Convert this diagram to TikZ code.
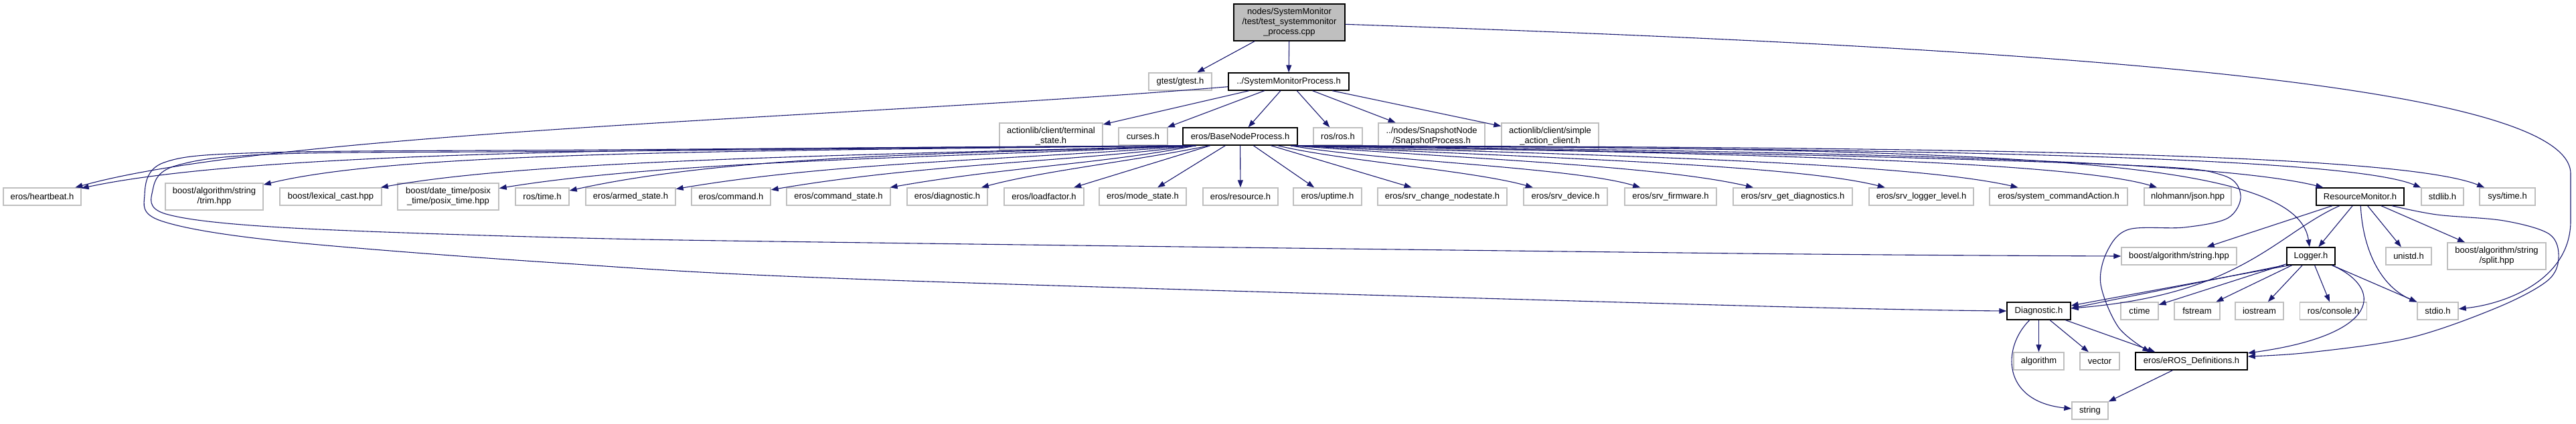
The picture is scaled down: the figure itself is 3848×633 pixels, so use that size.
\documentclass[tikz,border=0pt]{standalone}
\usepackage{fontspec}
\setmainfont{Liberation Sans}
\usetikzlibrary{arrows.meta}
\definecolor{edgeblue}{HTML}{191970}
\definecolor{boxgray}{HTML}{BFBFBF}
\begin{document}
\begin{tikzpicture}[x=0.01cm, y=-0.01cm,
 bw/.style={minimum width=#1*0.01cm},
 bh/.style={minimum height=#1*0.01cm},
 box/.style={rectangle, inner sep=0pt, font=\fontsize{3.7pt}{4.3pt}\selectfont, align=center, fill=white},
 ext/.style={box, draw=boxgray, line width=0.014cm},
 doc/.style={box, draw=black, line width=0.014cm},
 topfile/.style={box, draw=black, fill=boxgray, line width=0.014cm},
 edge/.style={draw=edgeblue, line width=0.011cm, -{Triangle[length=0.11cm,width=0.08cm]}},
]
\useasboundingbox (0,0) rectangle (3848,633);
\fill[white] (0,0) rectangle (3848,633);
% level 0-1
\node[topfile,bw=166,bh=55] (T) at (1926,33.5) {nodes/SystemMonitor\\/test/test\_systemmonitor\\\_process.cpp};
\node[ext,bw=94,bh=26] (gtest) at (1763,122) {gtest/gtest.h};
\node[doc,bw=180,bh=26] (SMP) at (1925,122) {../SystemMonitorProcess.h};
% level 2
\node[ext,bw=154,bh=40] (term) at (1570,204) {actionlib/client/terminal\\\_state.h};
\node[ext,bw=73,bh=26] (curses) at (1707.5,204) {curses.h};
\node[doc,bw=171,bh=26] (BNP) at (1852.5,204) {eros/BaseNodeProcess.h};
\node[ext,bw=73,bh=26] (rosros) at (1998.5,204) {ros/ros.h};
\node[ext,bw=159,bh=40] (snap) at (2138.5,204) {../nodes/SnapshotNode\\/SnapshotProcess.h};
\node[ext,bw=145,bh=40] (simple) at (2315.5,204) {actionlib/client/simple\\\_action\_client.h};
% level 3
\node[ext,bw=116,bh=26] (heartbeat) at (63,294) {eros/heartbeat.h};
\node[ext,bw=146,bh=40] (trim) at (320,294) {boost/algorithm/string\\/trim.hpp};
\node[ext,bw=152,bh=26] (lexical) at (494,294) {boost/lexical\_cast.hpp};
\node[ext,bw=151,bh=40] (posix) at (669.5,294) {boost/date\_time/posix\\\_time/posix\_time.hpp};
\node[ext,bw=80,bh=26] (rostime) at (810,294) {ros/time.h};
\node[ext,bw=134,bh=26] (armed) at (942,294) {eros/armed\_state.h};
\node[ext,bw=118,bh=26] (command) at (1092,294) {eros/command.h};
\node[ext,bw=155,bh=26] (cmdstate) at (1252.5,294) {eros/command\_state.h};
\node[ext,bw=120,bh=26] (diag) at (1415,294) {eros/diagnostic.h};
\node[ext,bw=119,bh=26] (loadf) at (1559.5,294) {eros/loadfactor.h};
\node[ext,bw=130,bh=26] (mode) at (1707,294) {eros/mode\_state.h};
\node[ext,bw=112,bh=26] (resource) at (1853,294) {eros/resource.h};
\node[ext,bw=102,bh=26] (uptime) at (1983,294) {eros/uptime.h};
\node[ext,bw=193,bh=26] (chg) at (2154.5,294) {eros/srv\_change\_nodestate.h};
\node[ext,bw=125,bh=26] (device) at (2338.5,294) {eros/srv\_device.h};
\node[ext,bw=137,bh=26] (firmware) at (2495.5,294) {eros/srv\_firmware.h};
\node[ext,bw=178,bh=26] (getdiag) at (2678,294) {eros/srv\_get\_diagnostics.h};
\node[ext,bw=156,bh=26] (loglvl) at (2870,294) {eros/srv\_logger\_level.h};
\node[ext,bw=206,bh=26] (sysca) at (3075,294) {eros/system\_commandAction.h};
\node[ext,bw=130,bh=26] (json) at (3268,294) {nlohmann/json.hpp};
\node[doc,bw=131,bh=26] (RM) at (3525.5,294) {ResourceMonitor.h};
\node[ext,bw=63,bh=26] (stdlib) at (3648.5,294) {stdlib.h};
\node[ext,bw=83,bh=26] (systime) at (3745.5,294) {sys/time.h};
% level 4
\node[ext,bw=172,bh=26] (strhpp) at (3255,383) {boost/algorithm/string.hpp};
\node[doc,bw=72,bh=26] (Logger) at (3452,383) {Logger.h};
\node[ext,bw=68,bh=26] (unistd) at (3598,383) {unistd.h};
\node[ext,bw=147,bh=40] (split) at (3729.5,383) {boost/algorithm/string\\/split.hpp};
% level 5
\node[doc,bw=95,bh=26] (Diagnostic) at (3045.5,465) {Diagnostic.h};
\node[ext,bw=56,bh=26] (ctime) at (3196,465) {ctime};
\node[ext,bw=68,bh=26] (fstream) at (3282,465) {fstream};
\node[ext,bw=72,bh=26] (iostream) at (3375,465) {iostream};
\node[ext,bw=100,bh=26] (console) at (3485.5,465) {ros/console.h};
\node[ext,bw=61,bh=26] (stdio) at (3641.5,465) {stdio.h};
% level 6-7
\node[ext,bw=75,bh=26] (algorithm) at (3045.5,540) {algorithm};
\node[ext,bw=59,bh=26] (vector) at (3136.5,540) {vector};
\node[doc,bw=167,bh=26] (eROSDef) at (3273.5,540) {eros/eROS\_Definitions.h};
\node[ext,bw=54,bh=26] (string) at (3122,614) {string};

% helper coordinates
\coordinate (bA) at ([xshift=0.1cm]BNP.south west);
\coordinate (bL) at ([xshift=0.2cm]BNP.south west);
\coordinate (bD) at ([xshift=0.4cm]BNP.south west);
\coordinate (bR) at ([xshift=-0.1cm]BNP.south east);
\coordinate (eTop) at ([xshift=0.22cm]eROSDef.north west);
\coordinate (eR1) at ([yshift=0.07cm]eROSDef.east);
\coordinate (eR2) at ([yshift=0.12cm]eROSDef.east);
\coordinate (rmR) at ([xshift=0.475cm]RM.south);

% top file
\draw[edge] (T) -- (gtest);
\draw[edge] (T) -- (SMP);
\draw[edge] (T) .. controls (3000,70) and (3840,120) .. (3840,260) -- (3840,330) .. controls (3840,420) and (3740,455) .. (stdio);

% SystemMonitorProcess.h
\draw[edge] (SMP) .. controls (1300,175) and (420,195) .. (heartbeat);
\foreach \t in {term,curses,BNP,rosros,snap,simple} \draw[edge] (SMP) -- (\t);

% BaseNodeProcess.h, left side
\draw[edge] (bL) .. controls (1100,222) and (400,222) .. (heartbeat);
\draw[edge] (bL) .. controls (1100,226) and (600,226) .. (trim);
\draw[edge] (bL) .. controls (1300,232) and (800,238) .. (lexical);
\draw[edge] (bL) .. controls (1400,236) and (1000,240) .. (posix);
\draw[edge] (bL) .. controls (1450,230) and (1100,230) .. (rostime);
\draw[edge] (bL) .. controls (1500,240) and (1250,242) .. (armed);
\draw[edge] (bL) .. controls (1600,242) and (1380,245) .. (command);
\draw[edge] (bL) .. controls (1650,245) and (1500,250) .. (cmdstate);
\draw[edge] (bD) .. controls (1700,240) and (1560,255) .. (diag);
\foreach \t in {loadf,mode,resource,uptime,chg} \draw[edge] (BNP) -- (\t);
\draw[edge] plot[smooth, tension=0.55] coordinates {(bA) (900,226) (420,230) (262,248) (228,285) (248,320) (420,340) (830,355) (1300,363) (2600,379) (strhpp.west)};
\draw[edge] plot[smooth, tension=0.55] coordinates {(bA) (900,224) (400,228) (245,243) (216,292) (240,330) (415,360) (830,393) (1300,418) (2600,457) (Diagnostic.west)};

% BaseNodeProcess.h, right side
\draw[edge] (BNP) .. controls (2000,240) and (2200,255) .. (device);
\draw[edge] (BNP) .. controls (2050,240) and (2350,250) .. (firmware);
\draw[edge] (bR) .. controls (2200,238) and (2480,248) .. (getdiag);
\draw[edge] (bR) .. controls (2300,236) and (2680,246) .. (loglvl);
\draw[edge] (bR) .. controls (2400,232) and (2850,243) .. (sysca);
\draw[edge] (bR) .. controls (2500,228) and (3080,238) .. (json);
\draw[edge] (bR) .. controls (2700,226) and (3300,238) .. (RM);
\draw[edge] (bR) .. controls (2800,222) and (3500,232) .. (stdlib);
\draw[edge] (bR) .. controls (2900,220) and (3580,228) .. (systime);
\draw[edge] (bR) .. controls (3000,222) and (3430,235) .. (Logger);
\draw[edge] plot[smooth, tension=0.55] coordinates {(bR) (2700,232) (3200,248) (3320,262) (3347,292) (3328,326) (3263,340) (3180,343) (3148,375) (3138,425) (3165,490) (eTop)};

% ResourceMonitor.h
\draw[edge] (RM) -- (strhpp);
\draw[edge] (RM) .. controls (3400,350) and (3350,440) .. (Diagnostic);
\draw[edge] (RM) -- (Logger);
\draw[edge] (RM) .. controls (3530,380) and (3560,430) .. (stdio);
\draw[edge] (RM) -- (unistd);
\draw[edge] (RM) -- (split);
\draw[edge] plot[smooth, tension=0.55] coordinates {(rmR) (3640,321) (3740,330) (3808,350) (3822,385) (3805,420) (3730,460) (3600,505) (3450,527) (eR1)};

% Logger.h
\draw[edge] ([xshift=-0.32cm]Logger.south) -- ([yshift=0.08cm]Diagnostic.east);
\draw[edge] ([xshift=-0.4cm]Logger.south) -- ([yshift=0.04cm]Diagnostic.east);
\foreach \t in {ctime,fstream,iostream,console,stdio} \draw[edge] (Logger) -- (\t);
\draw[edge] (Logger) .. controls (3560,430) and (3560,500) .. (eR2);

% Diagnostic.h
\draw[edge] (Diagnostic) -- (algorithm);
\draw[edge] (Diagnostic) -- (vector);
\draw[edge] ([xshift=0.4cm]Diagnostic.south) -- ([xshift=0.3cm]eROSDef.north west);
\draw[edge] (Diagnostic) .. controls (2990,520) and (2990,600) .. (string);

% eROS_Definitions.h
\draw[edge] (eROSDef) -- (string);
\end{tikzpicture}
\end{document}
